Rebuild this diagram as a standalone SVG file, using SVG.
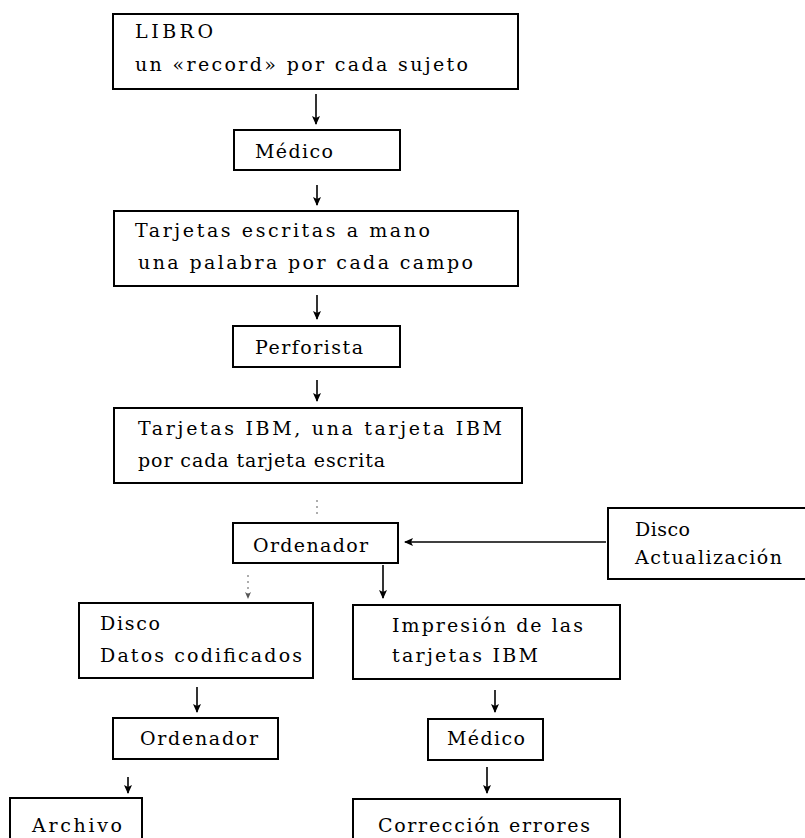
<svg xmlns="http://www.w3.org/2000/svg" width="805" height="838" viewBox="0 0 805 838">
<style>
.box{fill:none;stroke:#000;stroke-width:2}
.t{font-family:"DejaVu Serif","Liberation Serif",serif;font-size:19px;fill:#000}
.c{stroke:#000;stroke-width:1.6;fill:none}
.f{stroke:#777;stroke-width:1.2;fill:none;stroke-dasharray:2 4}
</style>
<defs>
<marker id="ah" markerUnits="userSpaceOnUse" markerWidth="8" markerHeight="9" refX="4" refY="8" viewBox="0 0 8 9">
<path d="M0,0 L4,9 L8,0 L4,2 Z" fill="#000"/>
</marker>
<marker id="ahs" markerUnits="userSpaceOnUse" markerWidth="6" markerHeight="7" refX="3" refY="6" viewBox="0 0 6 7">
<path d="M0,0 L3,7 L6,0 L3,2 Z" fill="#555"/>
</marker>
<marker id="ahl" markerUnits="userSpaceOnUse" markerWidth="9" markerHeight="8" refX="1" refY="4" viewBox="0 0 9 8">
<path d="M0,4 L9,0 L7,4 L9,8 Z" fill="#000"/>
</marker>
</defs>
<rect width="805" height="838" fill="#fff"/>

<g id="connectors">
<line class="c" x1="316" y1="94" x2="316" y2="124" marker-end="url(#ah)"/>
<line class="c" x1="317" y1="185" x2="317" y2="205" marker-end="url(#ah)"/>
<line class="c" x1="317" y1="295" x2="317" y2="319" marker-end="url(#ah)"/>
<line class="c" x1="317" y1="380" x2="317" y2="401" marker-end="url(#ah)"/>
<line class="f" x1="317" y1="500" x2="317" y2="517"/>
<line class="c" x1="606" y1="542" x2="405" y2="542" marker-end="url(#ahl)"/>
<line class="f" x1="248" y1="575" x2="248" y2="598" marker-end="url(#ahs)"/>
<line class="c" x1="383" y1="565" x2="383" y2="598" marker-end="url(#ah)"/>
<line class="c" x1="197" y1="687" x2="197" y2="712" marker-end="url(#ah)"/>
<line class="c" x1="495" y1="690" x2="495" y2="712" marker-end="url(#ah)"/>
<line class="c" x1="128" y1="777" x2="128" y2="793" marker-end="url(#ah)"/>
<line class="c" x1="487" y1="767" x2="487" y2="793" marker-end="url(#ah)"/>
</g>

<g id="libro">
<rect class="box" x="113" y="14" width="405" height="75"/>
<text class="t" x="135" y="38" textLength="78" lengthAdjust="spacing">LIBRO</text>
<text class="t" x="135" y="71" textLength="333" lengthAdjust="spacing">un «record» por cada sujeto</text>
</g>

<g id="medico1">
<rect class="box" x="234" y="130" width="166" height="40"/>
<text class="t" x="255" y="158" textLength="78" lengthAdjust="spacing">Médico</text>
</g>

<g id="tarjetas-escritas">
<rect class="box" x="114" y="211" width="404" height="75"/>
<text class="t" x="135" y="237" textLength="295" lengthAdjust="spacing">Tarjetas escritas a mano</text>
<text class="t" x="138" y="269" textLength="335" lengthAdjust="spacing">una palabra por cada campo</text>
</g>

<g id="perforista">
<rect class="box" x="233" y="326" width="167" height="41"/>
<text class="t" x="255" y="354" textLength="108" lengthAdjust="spacing">Perforista</text>
</g>

<g id="tarjetas-ibm">
<rect class="box" x="114" y="408" width="408" height="75"/>
<text class="t" x="138" y="435" textLength="364" lengthAdjust="spacing">Tarjetas IBM, una tarjeta IBM</text>
<text class="t" x="138" y="467" textLength="247" lengthAdjust="spacing">por cada tarjeta escrita</text>
</g>

<g id="ordenador1">
<rect class="box" x="233" y="523" width="165" height="40"/>
<text class="t" x="253" y="552" textLength="115" lengthAdjust="spacing">Ordenador</text>
</g>

<g id="disco-actualizacion">
<rect class="box" x="608" y="508" width="220" height="71"/>
<text class="t" x="635" y="536" textLength="55" lengthAdjust="spacing">Disco</text>
<text class="t" x="635" y="564" textLength="147" lengthAdjust="spacing">Actualización</text>
</g>

<g id="disco-datos">
<rect class="box" x="79" y="603" width="234" height="75"/>
<text class="t" x="100" y="630" textLength="60" lengthAdjust="spacing">Disco</text>
<text class="t" x="100" y="662" textLength="202" lengthAdjust="spacing">Datos codificados</text>
</g>

<g id="impresion">
<rect class="box" x="353" y="605" width="267" height="74"/>
<text class="t" x="392" y="632" textLength="191" lengthAdjust="spacing">Impresión de las</text>
<text class="t" x="392" y="662" textLength="146" lengthAdjust="spacing">tarjetas IBM</text>
</g>

<g id="ordenador2">
<rect class="box" x="113" y="718" width="165" height="41"/>
<text class="t" x="140" y="745" textLength="118" lengthAdjust="spacing">Ordenador</text>
</g>

<g id="medico2">
<rect class="box" x="428" y="719" width="115" height="41"/>
<text class="t" x="447" y="745" textLength="78" lengthAdjust="spacing">Médico</text>
</g>

<g id="archivo">
<rect class="box" x="10" y="798" width="132" height="60"/>
<text class="t" x="32" y="832" textLength="90" lengthAdjust="spacing">Archivo</text>
</g>

<g id="correccion">
<rect class="box" x="353" y="799" width="267" height="60"/>
<text class="t" x="378" y="832" textLength="212" lengthAdjust="spacing">Corrección errores</text>
</g>
</svg>
